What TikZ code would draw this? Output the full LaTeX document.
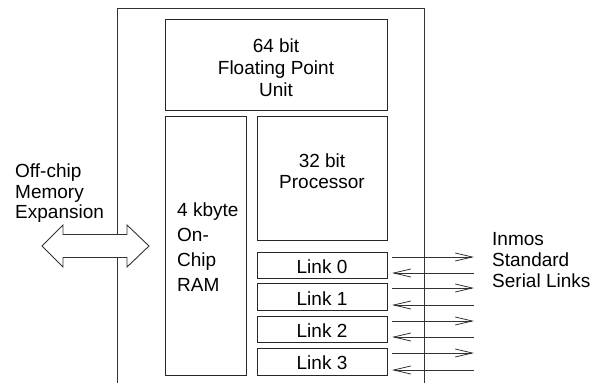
\documentclass[tikz,border=0pt]{standalone}
\usepackage{fontspec}
\setmainfont{Liberation Sans}
\usetikzlibrary{arrows.meta}
\begin{document}
\begin{tikzpicture}[x=1pt,y=-1pt,
  box/.style={draw=black!85, line width=0.9pt, inner sep=0pt, outer sep=0pt},
  txt/.style={inner sep=0pt, font=\fontsize{19}{22}\selectfont},
  txtc/.style={txt, anchor=base},
  txtl/.style={txt, anchor=base west},
  plain/.style={draw=black!80, line width=0.8pt},
  sig/.style={plain, -{Straight Barb[length=17pt,width=8pt,line width=0.8pt]}}]
\useasboundingbox (0,0) rectangle (591,383);
\fill[white] (0,0) rectangle (591,383);
% outer chip outline (open at the bottom)
\coordinate (obl) at (117,383);
\coordinate (otl) at (117,8);
\coordinate (otr) at (424,8);
\coordinate (obr) at (424,383);
\draw[plain, line width=0.9pt] (obl) -- (otl) -- (otr) -- (obr);
% blocks
\node[box, minimum width=222pt, minimum height=91pt] (fpu) at (276,64.5) {};
\node[box, minimum width=81pt, minimum height=259pt] (ram) at (205.5,245.5) {};
\node[box, minimum width=130pt, minimum height=124pt] (proc) at (322,178) {};
\node[box, minimum width=130pt, minimum height=26pt] (l0) at (322,265) {};
\node[box, minimum width=130pt, minimum height=27pt] (l1) at (322,296.5) {};
\node[box, minimum width=130pt, minimum height=26pt] (l2) at (322,329) {};
\node[box, minimum width=130pt, minimum height=27pt] (l3) at (322,361.5) {};
% texts
\node[txtc] (f1) at (276,52) {64 bit};
\node[txtc] (f2) at (276,74) {Floating Point};
\node[txtc] (f3) at (276,96) {Unit};
\node[txtc] (p1) at (322,167) {32 bit};
\node[txtc] (p2) at (322,188) {Processor};
\node[txtl] (r1) at (177,216) {4 kbyte};
\node[txtl] (r2) at (177,241) {On-};
\node[txtl] (r3) at (177,266) {Chip};
\node[txtl] (r4) at (177,291) {RAM};
\node[txtc] (t0) at (322,273) {Link 0};
\node[txtc] (t1) at (322,305.5) {Link 1};
\node[txtc] (t2) at (322,337.5) {Link 2};
\node[txtc] (t3) at (322,369.5) {Link 3};
\node[txtl] (m1) at (15,177) {Off-chip};
\node[txtl] (m2) at (15,198) {Memory};
\node[txtl] (m3) at (15,218.5) {Expansion};
\node[txtl] (s1) at (492,245) {Inmos};
\node[txtl] (s2) at (492,266) {Standard};
\node[txtl] (s3) at (492,287) {Serial Links};
% memory expansion double arrow
\draw[plain, line width=0.9pt, fill=white] (42,246) -- (63,225) -- (63,234.5) -- (127,234.5) -- (127,225) -- (149,246)
  -- (127,267) -- (127,257.5) -- (63,257.5) -- (63,267) -- cycle;
% serial link lines
\coordinate (o0) at (474,257);
\coordinate (i0) at (474,273);
\coordinate (o1) at (474,288);
\coordinate (i1) at (474,305);
\coordinate (o2) at (474,321);
\coordinate (i2) at (474,337);
\coordinate (o3) at (474,353);
\coordinate (i3) at (474,370);
\draw[sig] ([xshift=5pt,yshift=-5pt]l0.north east) -- (o0);
\draw[sig] (i0) -- ([xshift=5pt,yshift=5pt]l0.south east);
\draw[sig] ([xshift=5pt,yshift=-5pt]l1.north east) -- (o1);
\draw[sig] (i1) -- ([xshift=5pt,yshift=5pt]l1.south east);
\draw[sig] ([xshift=5pt,yshift=-5pt]l2.north east) -- (o2);
\draw[sig] (i2) -- ([xshift=5pt,yshift=5pt]l2.south east);
\draw[sig] ([xshift=5pt,yshift=-5pt]l3.north east) -- (o3);
\draw[sig] (i3) -- ([xshift=5pt,yshift=5pt]l3.south east);
\end{tikzpicture}
\end{document}
